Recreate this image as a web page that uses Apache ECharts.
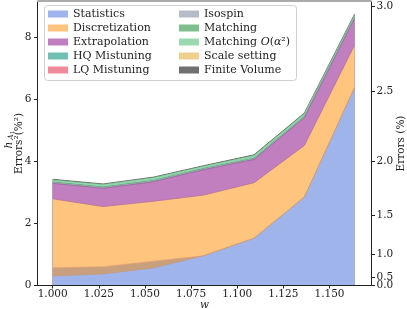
<!DOCTYPE html>
<html><head><meta charset="utf-8">
<script src="https://cdn.jsdelivr.net/npm/echarts@6/dist/echarts.min.js"></script>
<style>html,body{margin:0;padding:0;background:#fff}#c{width:407px;height:309px}</style>
</head><body><div id="c"></div>
<script>
const w = [1.0, 1.0273, 1.0545, 1.0818, 1.1091, 1.1364, 1.1636];
const statistics = [0.29, 0.355, 0.55, 0.945, 1.51, 2.84, 6.37];
const scaleSetting = [0.27, 0.235, 0.22, 0.0, 0.0, 0.0, 0.0];
const discretization = [2.22, 1.94, 1.93, 1.955, 1.79, 1.66, 1.37];
const extrapolation = [0.50, 0.59, 0.63, 0.82, 0.75, 0.90, 0.86];
const hqMistuning = [0.01, 0.01, 0.01, 0.01, 0.01, 0.01, 0.01];
const lqMistuning = [0.005, 0.005, 0.005, 0.005, 0.005, 0.005, 0.005];
const isospin = [0.005, 0.005, 0.005, 0.005, 0.005, 0.005, 0.005];
const matching = [0.02, 0.02, 0.02, 0.02, 0.02, 0.02, 0.02];
const matchingOa2 = [0.07, 0.08, 0.09, 0.07, 0.09, 0.09, 0.08];
const finiteVolume = [0.02, 0.02, 0.02, 0.02, 0.02, 0.02, 0.02];
const xTicks = [1.000, 1.025, 1.050, 1.075, 1.100, 1.125, 1.150];
const yTicks = [0, 2, 4, 6, 8];
const rightTicks = [0.0, 0.5, 1.0, 1.5, 2.0, 2.5, 3.0];

const FONT = 'DejaVu Serif';
const chart = echarts.init(document.getElementById('c'), null, {renderer: 'canvas'});

// stack order bottom -> top
const layers = [
  {name: 'Statistics', vals: statistics, legend: '#9fb3ee', area: '#a0b4ec', line: '#c49a7a'},
  {name: 'Scale setting', vals: scaleSetting, legend: '#ecd08c', area: '#c9a07e', line: '#e8a070'},
  {name: 'Discretization', vals: discretization, legend: '#ffc380', area: '#ffc57f', line: '#b06a9a'},
  {name: 'Extrapolation', vals: extrapolation, legend: '#c07ec0', area: '#c17fc0', line: '#9a5a9a'},
  {name: 'HQ Mistuning', vals: hqMistuning, legend: '#6fbfb5', area: '#6cbcb8'},
  {name: 'LQ Mistuning', vals: lqMistuning, legend: '#f08a9a', area: '#ef8a9a'},
  {name: 'Isospin', vals: isospin, legend: '#b4bcc8', area: '#b7bfca'},
  {name: 'Matching', vals: matching, legend: '#7fbf8f', area: '#4f9e6c'},
  {name: 'Matching O(α²)', vals: matchingOa2, legend: '#9ad8b0', area: '#8fd6ac'},
  {name: 'Finite Volume', vals: finiteVolume, legend: '#707070', area: '#505048', line: '#404038'}
];
let run = w.map(() => 0);
layers.forEach(L => { run = run.map((s, i) => s + L.vals[i]); L.cum = run.slice(); });

const series = layers.slice().reverse().map((L, k) => ({
  name: L.name, type: 'line', symbol: 'none', smooth: false, z: 2,
  data: w.map((x, i) => [x, L.cum[i]]),
  itemStyle: {color: L.legend},
  areaStyle: {color: L.area, opacity: 1, origin: 'start'},
  lineStyle: {color: L.line || L.area, width: 0.7},
  emphasis: {disabled: true}, animation: false
}));

const legendText = {fontFamily: FONT, fontSize: 11, color: '#222', lineHeight: 11,
  rich: {i: {fontFamily: FONT, fontSize: 11, fontStyle: 'italic', color: '#222', lineHeight: 11}}};
const legCommon = {
  orient: 'vertical', itemWidth: 20, itemHeight: 7, itemGap: 3, itemTextGap: 9,
  icon: 'rect', textStyle: legendText, selectedMode: false, padding: 0, z: 10,
  formatter: n => n === 'Matching O(α²)' ? 'Matching {i|O}({i|α}²)' : n
};
const rightVals = rightTicks.map(v => v * v);
const sqrtFmt = v => Math.sqrt(v).toFixed(1);

chart.setOption({
  animation: false,
  backgroundColor: '#fff',
  grid: {left: 37.5, right: 35.5, top: 2, bottom: 24},
  xAxis: {
    type: 'value', min: 0.99178, max: 1.17276,
    axisLine: {show: true, onZero: false, lineStyle: {color: '#222', width: 1}},
    axisTick: {show: true, length: 3.5, customValues: xTicks, lineStyle: {color: '#222'}},
    axisLabel: {customValues: xTicks, formatter: v => v.toFixed(3), fontFamily: FONT, fontSize: 10.5, color: '#222', margin: 4},
    splitLine: {show: false}, z: 5
  },
  yAxis: [{
    type: 'value', min: 0, max: 9.13, position: 'left',
    axisLine: {show: true, lineStyle: {color: '#222', width: 1}},
    axisTick: {show: true, length: 3.5, customValues: yTicks, lineStyle: {color: '#222'}},
    axisLabel: {customValues: yTicks, formatter: v => String(v), fontFamily: FONT, fontSize: 10.5, color: '#222', margin: 6},
    splitLine: {show: false}, z: 5
  }, {
    type: 'value', min: 0, max: 9.13, position: 'right',
    axisLine: {show: true, lineStyle: {color: '#222', width: 1}},
    axisTick: {show: true, length: 3.5, customValues: rightVals, lineStyle: {color: '#222'}},
    axisLabel: {customValues: rightVals.filter(v => v !== 0.25), formatter: sqrtFmt, fontFamily: FONT, fontSize: 10.5, color: '#222', margin: 5, hideOverlap: false, showMinLabel: true, showMaxLabel: true},
    splitLine: {show: false}, z: 5
  }, {
    type: 'value', min: 0, max: 9.13, position: 'right',
    axisLine: {show: false}, axisTick: {show: false},
    axisLabel: {customValues: rightVals.filter(v => v === 0.25), formatter: sqrtFmt, fontFamily: FONT, fontSize: 10.5, color: '#222', margin: 5, showMinLabel: true},
    splitLine: {show: false}, z: 5
  }],
  legend: [
    Object.assign({left: 48, top: 8.5, data: ['Statistics', 'Discretization', 'Extrapolation', 'HQ Mistuning', 'LQ Mistuning']}, legCommon),
    Object.assign({left: 179, top: 8.5, data: ['Isospin', 'Matching', 'Matching O(α²)', 'Scale setting', 'Finite Volume']}, legCommon)
  ],
  graphic: [
    {type: 'line', shape: {x1: 37.5, y1: 1, x2: 371.5, y2: 1}, style: {stroke: '#aaa', lineWidth: 2}, z: 100},
    {type: 'rect', shape: {x: 44.5, y: 5.5, width: 252, height: 75, r: 3}, style: {fill: 'rgba(255,255,255,0.85)', stroke: '#d0d0d0', lineWidth: 1}, z: 3},
    {type: 'text', x: 19, y: 143.5, rotation: Math.PI / 2, style: {text: 'Errors²(%²)', font: '10.5px "DejaVu Serif"', fill: '#222', align: 'center', verticalAlign: 'middle'}},
    {type: 'text', x: 9, y: 145, rotation: Math.PI / 2, style: {text: 'h', font: 'italic 10.5px "DejaVu Serif"', fill: '#222', align: 'center', verticalAlign: 'middle'}},
    {type: 'text', x: 11, y: 137, rotation: Math.PI / 2, style: {text: 'A', font: 'italic 7.5px "DejaVu Serif"', fill: '#222', align: 'center', verticalAlign: 'middle'}},
    {type: 'text', x: 12.5, y: 132.5, rotation: Math.PI / 2, style: {text: '1', font: '5.5px "DejaVu Serif"', fill: '#222', align: 'center', verticalAlign: 'middle'}},
    {type: 'text', x: 401, y: 143.5, rotation: Math.PI / 2, style: {text: 'Errors (%)', font: '10.5px "DejaVu Serif"', fill: '#222', align: 'center', verticalAlign: 'middle'}},
    {type: 'text', x: 204.5, y: 305, style: {text: 'w', font: 'italic 10.5px "DejaVu Serif"', fill: '#222', align: 'center', verticalAlign: 'middle'}}
  ],
  series: series
});
</script></body></html>
